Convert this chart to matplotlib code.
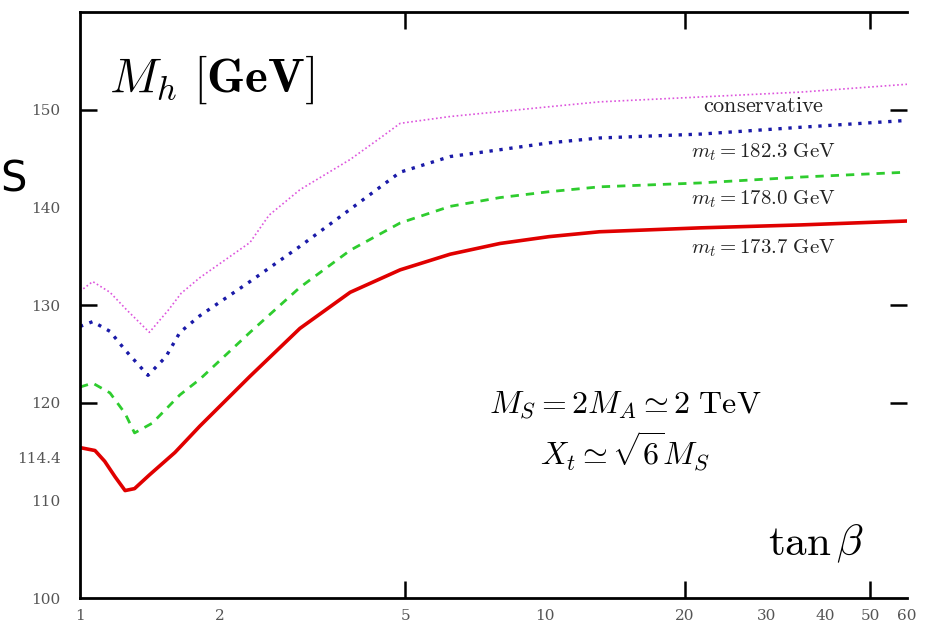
import numpy as np
import matplotlib.pyplot as plt
from matplotlib.ticker import FixedLocator, NullFormatter

plt.rcParams['mathtext.fontset'] = 'cm'
plt.rcParams['font.family'] = 'DejaVu Serif'

# tan(beta) sample points and M_h [GeV] for each curve
tb_red = [1.0, 1.077, 1.13, 1.19, 1.25, 1.31, 1.41, 1.60, 1.81, 2.32, 2.97,
          3.81, 4.88, 6.25, 8.0, 10.2, 13.1, 21.6, 35.5, 60.0]
mh_red = [115.4, 115.1, 114.0, 112.4, 111.0, 111.2, 112.6, 114.9, 117.6, 122.7,
          127.6, 131.3, 133.6, 135.2, 136.3, 137.0, 137.5, 137.9, 138.2, 138.6]

tb_green = [1.0, 1.065, 1.16, 1.25, 1.31, 1.43, 1.64, 1.81, 2.32, 2.97, 3.81,
            4.88, 6.25, 8.0, 10.2, 13.1, 21.6, 35.5, 60.0]
mh_green = [121.6, 122.0, 121.0, 118.9, 116.9, 117.9, 120.8, 122.4, 127.2, 131.8,
            135.6, 138.4, 140.1, 141.0, 141.6, 142.1, 142.5, 143.1, 143.6]

tb_blue = [1.0, 1.065, 1.16, 1.25, 1.40, 1.53, 1.64, 1.81, 2.32, 2.97, 3.81,
           4.88, 6.25, 8.0, 10.2, 13.1, 21.6, 35.5, 60.0]
mh_blue = [127.8, 128.3, 127.3, 125.4, 122.8, 124.7, 127.2, 128.9, 132.4, 136.0,
           139.8, 143.6, 145.2, 145.9, 146.6, 147.1, 147.5, 148.2, 148.9]

tb_cons = [1.0, 1.065, 1.16, 1.26, 1.41, 1.55, 1.65, 1.81, 2.32, 2.55, 2.97,
           3.81, 4.45, 4.88, 6.25, 8.0, 10.2, 13.1, 21.6, 35.5, 60.0]
mh_cons = [131.4, 132.4, 131.3, 129.5, 127.2, 129.5, 131.2, 132.8, 136.4, 139.2,
           141.8, 144.9, 147.2, 148.6, 149.3, 149.8, 150.3, 150.8, 151.3, 151.8, 152.6]

curve_labels = [r'$\mathrm{conservative}$', r'$m_t = 182.3\ \mathrm{GeV}$',
                r'$m_t = 178.0\ \mathrm{GeV}$', r'$m_t = 173.7\ \mathrm{GeV}$']

x_ticks = [1, 2, 5, 10, 20, 30, 40, 50, 60]
x_marks = [5, 20, 50]
y_ticks = [100, 110, 114.4, 120, 130, 140, 150]
y_tick_labels = ['100', '110', '114.4', '120', '130', '140', '150']
y_marks = [120, 130, 150]

fig = plt.figure(figsize=(9.31, 6.35), dpi=100)
ax = fig.add_axes([80 / 931, 1 - 598 / 635, 827 / 931, 586 / 635])

ax.plot(tb_cons, mh_cons, color='#dd55dd', lw=1.2, ls=(0, (1, 1.5)))
ax.plot(tb_blue, mh_blue, color='#1a1aa8', lw=2.4, ls=(0, (1, 2)))
ax.plot(tb_green, mh_green, color='#2ecc2e', lw=2.0, ls=(0, (3, 2.5)))
ax.plot(tb_red, mh_red, color='#e00000', lw=2.6)

ax.set_xscale('log')
ax.set_xlim(1, 60)
ax.set_ylim(100, 160)

ax.xaxis.remove_overlapping_locs = False
ax.yaxis.remove_overlapping_locs = False
ax.xaxis.set_major_locator(FixedLocator(x_ticks))
ax.set_xticklabels([str(t) for t in x_ticks])
ax.xaxis.set_minor_locator(FixedLocator(x_marks))
ax.xaxis.set_minor_formatter(NullFormatter())
ax.yaxis.set_major_locator(FixedLocator(y_ticks))
ax.set_yticklabels(y_tick_labels)
ax.yaxis.set_minor_locator(FixedLocator(y_marks))
ax.yaxis.set_minor_formatter(NullFormatter())

ax.tick_params(which='major', length=0, labelsize=11, labelcolor='#555555')
ax.tick_params(axis='y', which='major', pad=14)
ax.tick_params(axis='x', which='major', pad=8)
ax.tick_params(which='minor', direction='in', length=12, width=1.8,
               top=True, right=True, bottom=True, left=True)

for side in ['left', 'bottom', 'top']:
    ax.spines[side].set_linewidth(2)
ax.spines['right'].set_visible(False)

# curve labels
label_y = [150.4, 145.6, 140.8, 135.8]
label_size = [16, 15, 15, 15]
for lab, yy, fs in zip(curve_labels, label_y, label_size):
    ax.text(29.5, yy, lab, fontsize=fs, ha='center', va='center', color='#222222')

ax.text(0.035, 0.885, r'$M_h\ [\mathbf{GeV}]$', transform=ax.transAxes,
        fontsize=35, ha='left', va='center')
ax.text(0.659, 0.329, r'$M_S = 2M_A \simeq 2\ \mathrm{TeV}$', transform=ax.transAxes,
        fontsize=23, ha='center', va='center')
ax.text(0.659, 0.25, r'$X_t \simeq \sqrt{6}M_S$', transform=ax.transAxes,
        fontsize=23, ha='center', va='center')
ax.text(0.89, 0.093, r'$\mathrm{tan}\,\beta$', transform=ax.transAxes,
        fontsize=31, ha='center', va='center')

# stray glyph at the left edge of the scan
fig.text(0.0, 1 - 180 / 635, 'S', fontsize=30, family='DejaVu Sans',
         ha='left', va='center')

fig.savefig('out.png', dpi=100)
